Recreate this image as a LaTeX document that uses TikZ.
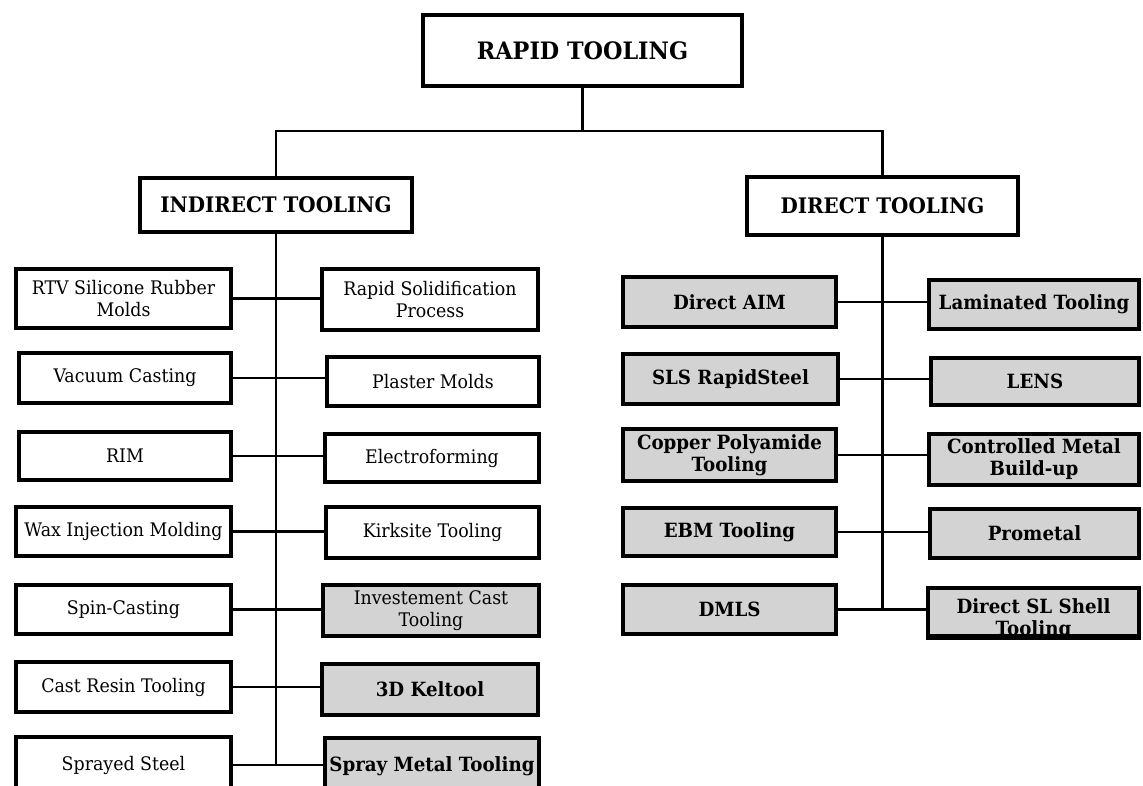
\documentclass[tikz,border=0pt]{standalone}
\usepackage{fontspec}
\setmainfont{DejaVu Serif}[FakeStretch=0.93]
\definecolor{boxgray}{RGB}{211,211,211}
\tikzset{
  box/.style={draw=black, line width=3.8pt, fill=white, align=center, inner sep=1pt,
    font=\fontsize{18.7}{22}\selectfont},
  gbox/.style={box, fill=boxgray},
  bbox/.style={gbox, font=\fontsize{19.6}{22}\selectfont\bfseries},
  hbox/.style={box, font=\fontsize{21.4}{24}\selectfont\bfseries},
  conn/.style={draw=black, line width=2.2pt}
}
\newcommand\bx[7][box]{\node[#1, minimum width={(#5-#3-4)*1pt}, minimum height={(#6-#4-4)*1pt}] (#2) at ({(#3+#5)/2},{(#4+#6)/2}) {#7};}
\begin{document}
\begin{tikzpicture}[x=1pt,y=-1pt]
\useasboundingbox[fill=white] (0,0) rectangle (1143,786);
\clip (0,0) rectangle (1143,786);
% headers
\bx[hbox, font=\fontsize{24}{28}\selectfont\bfseries]{rt}{421}{13}{744}{88}{RAPID TOOLING}
\bx[hbox]{ind}{138}{176}{414}{234}{INDIRECT TOOLING}
\bx[hbox]{dir}{745}{175}{1020}{237}{DIRECT TOOLING}
% indirect left
\bx{l1}{14}{267}{233}{330}{RTV Silicone Rubber\\Molds}
\bx{l2}{17}{351}{233}{405}{Vacuum Casting}
\bx{l3}{17}{430}{233}{482}{RIM}
\bx{l4}{14}{505}{233}{558}{Wax Injection Molding}
\bx{l5}{14}{583}{233}{636}{Spin-Casting}
\bx{l6}{14}{660}{233}{714}{Cast Resin Tooling}
\bx[box, yshift=3pt]{l7}{14}{738}{233}{798}{Sprayed Steel}
% indirect right
\bx{m1}{320}{267}{540}{332}{Rapid Solidification\\Process}
\bx{m2}{325}{355}{541}{408}{Plaster Molds}
\bx{m3}{323}{432}{541}{484}{Electroforming}
\bx{m4}{324}{505}{541}{560}{Kirksite Tooling}
\bx[gbox]{m5}{321}{583}{541}{638}{Investement Cast\\Tooling}
\bx[bbox]{m6}{320}{662}{540}{717}{3D Keltool}
\bx[bbox, yshift=3pt]{m7}{323}{739}{541}{799}{Spray Metal Tooling}
% direct left
\bx[bbox]{d1}{621}{275}{838}{329}{Direct AIM}
\bx[bbox]{d2}{621}{352}{840}{406}{SLS RapidSteel}
\bx[bbox]{d3}{621}{427}{838}{483}{Copper Polyamide\\Tooling}
\bx[bbox]{d4}{621}{506}{838}{558}{EBM Tooling}
\bx[bbox]{d5}{621}{583}{838}{636}{DMLS}
% direct right
\bx[bbox]{e1}{927}{278}{1141}{331}{Laminated Tooling}
\bx[bbox]{e2}{929}{356}{1141}{407}{LENS}
\bx[bbox]{e3}{927}{432}{1141}{487}{Controlled Metal\\Build-up}
\bx[bbox]{e4}{928}{507}{1141}{560}{Prometal}
\bx[bbox]{e5}{926}{586}{1141}{638}{}
\node[align=center, inner sep=0pt, font=\fontsize{19.6}{22}\selectfont\bfseries] (e5t) at ([yshift=-7pt]e5.center) {Direct SL Shell\\Tooling};
\draw[line width=3.8pt] (e5.south west) -- (e5.south east);
% tree connectors
\coordinate (hy) at (0,131);
\draw[conn] (rt.south) -- (rt.south |- hy);
\draw[conn] (ind.north) -- (ind.north |- hy) -| (dir.north);
\draw[conn] (ind.south) -- (ind.south |- l7.east);
\draw[conn] (dir.south) -- (dir.south |- d5.east);
\foreach \a/\b in {l1/m1,l2/m2,l3/m3,l4/m4,l5/m5,l6/m6,l7/m7,d1/e1,d2/e2,d3/e3,d4/e4,d5/e5}
  \draw[conn] (\a.east) -- (\a.east -| \b.west);
\end{tikzpicture}
\end{document}
